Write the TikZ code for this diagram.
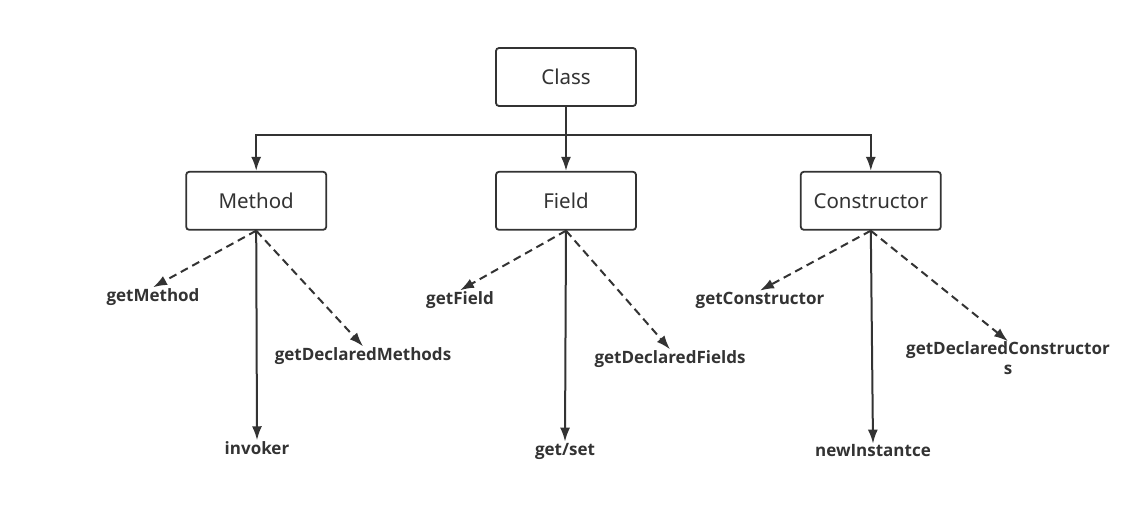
\documentclass[tikz,border=0pt]{standalone}
\usepackage{fontspec}
\setmainfont{Noto Sans}
\newfontfamily\lblfont{Open Sans}
\usetikzlibrary{arrows.meta,positioning}
\definecolor{ink}{HTML}{333333}

\begin{document}
\begin{tikzpicture}[x=1pt,y=1pt,
  box/.style={draw=ink,line width=1.8pt,rounded corners=3pt,minimum width=140pt,
    minimum height=58pt,inner sep=0pt,font=\fontsize{20.5}{24}\selectfont,text=ink},
  lbl/.style={font=\lblfont\bfseries\fontsize{17}{20}\selectfont,text=ink,inner sep=1pt},
  arr/.style={draw=ink,line width=2pt,-{Latex[length=14pt,width=10pt]}},
  dasharr/.style={arr,dash pattern=on 8pt off 5pt}]
  \useasboundingbox[fill=white] (0,0) rectangle (1148,-524);

  \node[box] (class) at (566,-77) {Class};
  \node[box,below=64pt of class] (field) {Field};
  \node[box,left=168pt of field] (method) {Method};
  \node[box,right=163pt of field] (ctor) {Constructor};

  \path (class.south) ++(0,-28) coordinate (split);
  \draw[arr] (class.south) -- (field.north);
  \draw[arr] (split) -| (method.north);
  \draw[arr] (split) -| (ctor.north);

  \node[lbl] (getmethod) at (153,-297) {getMethod};
  \node[lbl] (getdmethods) at (363,-356) {getDeclaredMethods};
  \node[lbl] (invoker) at (257,-448) {invoker};
  \node[lbl] (getfield) at (460,-300) {getField};
  \node[lbl] (getdfields) at (670,-359) {getDeclaredFields};
  \node[lbl] (getset) at (565,-451) {get/set};
  \node[lbl] (getctor) at (760,-300) {getConstructor};
  \node[lbl,align=center,inner sep=0pt] (getdctors) at (1008,-358) {getDeclaredConstructor\\s};
  \node[lbl] (newinst) at (873,-451) {newInstantce};

  \draw[dasharr] (method.south) -- (getmethod.north);
  \draw[dasharr] (method.south) -- (getdmethods.north);
  \draw[dasharr] (field.south) -- (getfield.north);
  \draw[dasharr] (field.south) -- (getdfields.north);
  \draw[dasharr] (ctor.south) -- (getctor.north);
  \draw[dasharr] (ctor.south) -- (getdctors.north);

  \draw[arr] (method.south) -- (invoker.north);
  \draw[arr] (field.south) -- (getset.north);
  \draw[arr] (ctor.south) -- (newinst.north);
\end{tikzpicture}
\end{document}
